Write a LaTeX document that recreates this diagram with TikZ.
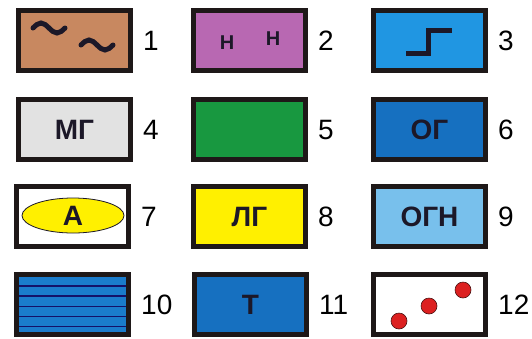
\documentclass[tikz,border=0pt]{standalone}
\usepackage{fontspec}
\setmainfont{Liberation Sans}
\usetikzlibrary{positioning,shapes.geometric}

\definecolor{clay}{RGB}{200,136,96}
\definecolor{orchid}{RGB}{184,104,178}
\definecolor{skyblue}{RGB}{32,150,226}
\definecolor{pale}{RGB}{226,226,226}
\definecolor{leaf}{RGB}{24,152,64}
\definecolor{deepblue}{RGB}{22,112,192}
\definecolor{lemon}{RGB}{255,240,0}
\definecolor{lightblue}{RGB}{120,192,236}
\definecolor{stripeblue}{RGB}{26,124,204}
\definecolor{rim}{RGB}{30,24,24}
\definecolor{ink}{RGB}{28,24,40}
\definecolor{dotred}{RGB}{220,32,32}

\begin{document}
\begin{tikzpicture}[x=1pt, y=-1pt,
    box/.style={draw=rim, line width=5pt, minimum width=112pt, minimum height=60pt, inner sep=0pt},
    tag/.style={font=\bfseries\fontsize{28}{30}\selectfont, text=ink, inner sep=0pt},
    smalltag/.style={font=\bfseries\fontsize{20}{22}\selectfont, text=ink, inner sep=0pt},
    num/.style={font=\fontsize{28}{30}\selectfont, text=black, inner sep=0pt},
    dot/.style={circle, draw=rim!80!red, line width=0.6pt, fill=dotred, minimum size=16pt, inner sep=0pt}]
        \useasboundingbox (0,0) rectangle (532,338);

        % row 1
        \node[box, fill=clay] (b1) at (74.5,40.5) {};
        \node[box, fill=orchid] (b2) at (249.5,40.5) {};
        \node[box, fill=skyblue] (b3) at (429.5,40.5) {};
        \draw[ink, line width=5pt, line cap=round] (33,28) sin (41,23) cos (49,28) sin (57,33) cos (65,28);
        \draw[ink, line width=5pt, line cap=round] (81,45) sin (89,40) cos (97,45) sin (105,50) cos (113,45);
        \node[smalltag] (h1) at (227,43) {Н};
        \node[smalltag] (h2) at (273,39) {Н};
        \draw[ink, line width=5pt] (406,53) -- (428,53) -- (428,30) -- (452,30);

        % row 2
        \node[box, fill=pale] (b4) at (74.5,129.5) {};
        \node[box, fill=leaf] (b5) at (249.5,129.5) {};
        \node[box, fill=deepblue] (b6) at (429.5,129.5) {};
        \node[tag] (t4) at (b4) {МГ};
        \node[tag] (t6) at (b6) {ОГ};

        % row 3
        \node[box, fill=white] (b7) at (72.5,216.5) {};
        \node[box, fill=lemon] (b8) at (249.5,216.5) {};
        \node[box, fill=lightblue] (b9) at (429.5,216.5) {};
        \node[tag, ellipse, draw=ink, line width=0.8pt, fill=lemon, minimum width=102pt, minimum height=35pt] (t7) at (73,215.5) {А};
        \node[tag] (t8) at (b8) {ЛГ};
        \node[tag] (t9) at (b9) {ОГН};

        % row 4
        \node[box, fill=stripeblue] (b10) at (72.5,304.5) {};
        \node[box, fill=deepblue] (b11) at (250.5,304.5) {};
        \node[box, fill=white] (b12) at (429.5,304.5) {};
        \foreach \y in {286,296,306.5,316.5,326.5}
            \draw[ink!70!blue, line width=1.6pt] (19,\y) -- (126,\y);
        \node[tag] (t11) at (b11) {Т};
        \foreach \x/\y [count=\i] in {399/321, 429/306, 463/290}
            \node[dot] (d\i) at (\x,\y) {};

        % numbers
        \foreach \i in {1,...,12}
            \node[num, right=10pt of b\i] (n\i) {\i};
    \end{tikzpicture}
\end{document}
